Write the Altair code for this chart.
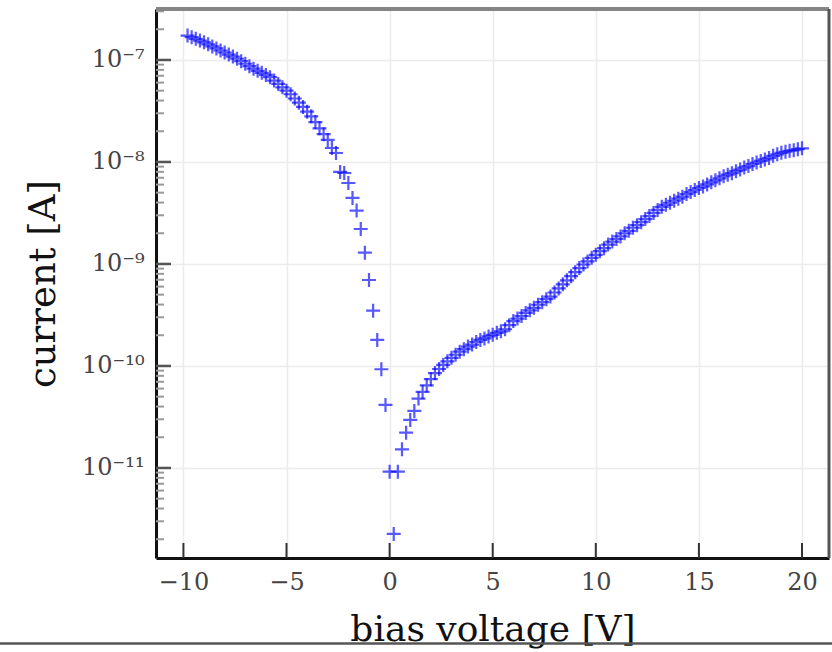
import altair as alt
import pandas as pd

# ---- data (bias voltage in V, log10 of current in A) ----
voltage = [
    -9.8, -9.6, -9.4, -9.2, -9.0, -8.8, -8.6, -8.4, -8.2, -8.0,
    -7.8, -7.6, -7.4, -7.2, -7.0, -6.8, -6.6, -6.4, -6.2, -6.0,
    -5.8, -5.6, -5.4, -5.2, -5.0, -4.8, -4.6, -4.4, -4.2, -4.0,
    -3.8, -3.6, -3.4, -3.2, -3.0, -2.8, -2.6, -2.4, -2.2, -2.0,
    -1.8, -1.6, -1.4, -1.2, -1.0, -0.8, -0.6, -0.4, -0.2, 0.0,
    0.2, 0.4, 0.6, 0.8, 1.0, 1.2, 1.4, 1.6, 1.8, 2.0,
    2.2, 2.4, 2.6, 2.8, 3.0, 3.2, 3.4, 3.6, 3.8, 4.0,
    4.2, 4.4, 4.6, 4.8, 5.0, 5.2, 5.4, 5.6, 5.8, 6.0,
    6.2, 6.4, 6.6, 6.8, 7.0, 7.2, 7.4, 7.6, 7.8, 8.0,
    8.2, 8.4, 8.6, 8.8, 9.0, 9.2, 9.4, 9.6, 9.8, 10.0,
    10.2, 10.4, 10.6, 10.8, 11.0, 11.2, 11.4, 11.6, 11.8, 12.0,
    12.2, 12.4, 12.6, 12.8, 13.0, 13.2, 13.4, 13.6, 13.8, 14.0,
    14.2, 14.4, 14.6, 14.8, 15.0, 15.2, 15.4, 15.6, 15.8, 16.0,
    16.2, 16.4, 16.6, 16.8, 17.0, 17.2, 17.4, 17.6, 17.8, 18.0,
    18.2, 18.4, 18.6, 18.8, 19.0, 19.2, 19.4, 19.6, 19.8, 20.0,
]

log10_current = [
    -6.761, -6.777, -6.793, -6.810, -6.827, -6.847, -6.867, -6.887, -6.907, -6.927,
    -6.947, -6.967, -6.988, -7.012, -7.037, -7.061, -7.085, -7.106, -7.126, -7.147,
    -7.169, -7.202, -7.235, -7.268, -7.301, -7.336, -7.378, -7.419, -7.460, -7.507,
    -7.553, -7.609, -7.670, -7.728, -7.784, -7.863, -7.912, -8.098, -8.108, -8.206,
    -8.353, -8.477, -8.657, -8.889, -9.157, -9.458, -9.745, -10.032, -10.382, -11.036,
    -11.647, -11.036, -10.817, -10.654, -10.529, -10.441, -10.320, -10.255, -10.190, -10.130,
    -10.070, -10.030, -9.990, -9.955, -9.920, -9.890, -9.860, -9.835, -9.810, -9.790,
    -9.765, -9.745, -9.730, -9.710, -9.695, -9.675, -9.660, -9.640, -9.600, -9.560,
    -9.535, -9.510, -9.480, -9.455, -9.430, -9.400, -9.375, -9.345, -9.320, -9.280,
    -9.240, -9.200, -9.160, -9.120, -9.080, -9.040, -9.005, -8.975, -8.940, -8.910,
    -8.875, -8.845, -8.810, -8.780, -8.755, -8.730, -8.700, -8.675, -8.645, -8.620,
    -8.590, -8.560, -8.530, -8.500, -8.470, -8.440, -8.420, -8.400, -8.380, -8.360,
    -8.340, -8.315, -8.295, -8.275, -8.255, -8.240, -8.220, -8.200, -8.180, -8.160,
    -8.140, -8.125, -8.110, -8.090, -8.075, -8.055, -8.040, -8.020, -8.005, -7.990,
    -7.975, -7.960, -7.940, -7.925, -7.910, -7.900, -7.890, -7.885, -7.875, -7.866,
]

x_ticks = [-10, -5, 0, 5, 10, 15, 20]
y_major = [1e-11, 1e-10, 1e-9, 1e-8, 1e-7]
y_labels = ["10⁻¹¹", "10⁻¹⁰", "10⁻⁹", "10⁻⁸", "10⁻⁷"]
minor_mult = [2, 3, 4, 5, 6, 7, 8, 9]
minor_decades = [-12, -11, -10, -9, -8, -7]

X_DOMAIN = [-11.33, 21.31]
Y_DOMAIN = [1.31e-12, 3.16e-7]

df = pd.DataFrame({"voltage": voltage, "current": [10.0 ** v for v in log10_current]})
y_minor = [m * 10.0 ** k for k in minor_decades for m in minor_mult
           if Y_DOMAIN[0] <= m * 10.0 ** k <= Y_DOMAIN[1]]

W, H = 673, 549
FONT = "DejaVu Serif"

x_scale = alt.Scale(domain=X_DOMAIN, nice=False, zero=False)
y_scale = alt.Scale(type="log", domain=Y_DOMAIN, nice=False)

label_map = "[" + ",".join("'%s'" % s for s in y_labels) + "]"

x_axis = alt.Axis(
    values=x_ticks,
    title="bias voltage [V]",
    grid=True,
    gridColor="#ececec",
    gridWidth=1.5,
    ticks=False,
    tickSize=0,
    domainColor="#111111",
    domainWidth=3,
    labelFont=FONT,
    labelFontSize=24,
    labelColor="#444444",
    labelPadding=12,
    labelFlush=False,
    labelOverlap=False,
    labelExpr="datum.value < 0 ? '\u2212' + abs(datum.value) : '' + datum.value",
    titleFont=FONT,
    titleFontSize=36,
    titleFontWeight="normal",
    titleColor="#111111",
    titleX=W / 2,
    titleY=82,
    titleBaseline="alphabetic",
    titleAlign="center",
)

y_axis = alt.Axis(
    values=y_major,
    title="current [A]",
    grid=True,
    gridColor="#ececec",
    gridWidth=1.5,
    ticks=False,
    tickSize=0,
    domainColor="#111111",
    domainWidth=3,
    labelFont=FONT,
    labelFontSize=24,
    labelColor="#444444",
    labelPadding=12,
    labelFlush=False,
    labelOverlap=False,
    labelExpr=label_map + "[round(log(datum.value)/LN10)+11]",
    titleFont=FONT,
    titleFontSize=37,
    titleFontWeight="normal",
    titleColor="#111111",
    titleAngle=270,
    titleX=-102,
    titleY=H / 2,
    titleBaseline="alphabetic",
    titleAlign="center",
)

points = alt.Chart(df).mark_point(
    shape="M-1,0L1,0M0,-1L0,1",
    size=196,
    filled=False,
    color="#0000ff",
    stroke="#0000ff",
    strokeWidth=2.2,
    opacity=0.65,
).encode(
    x=alt.X("voltage:Q", scale=x_scale, axis=x_axis),
    y=alt.Y("current:Q", scale=y_scale, axis=y_axis),
)

x_tick_layer = alt.Chart(pd.DataFrame({"voltage": x_ticks})).mark_rule(
    color="#333333", strokeWidth=2
).encode(
    x=alt.X("voltage:Q", scale=x_scale, axis=x_axis),
    y=alt.value(H - 15),
    y2=alt.value(H),
)

y_major_layer = alt.Chart(pd.DataFrame({"current": y_major})).mark_rule(
    color="#555555", strokeWidth=2.5
).encode(
    y=alt.Y("current:Q", scale=y_scale, axis=y_axis),
    x=alt.value(0),
    x2=alt.value(15),
)

y_minor_layer = alt.Chart(pd.DataFrame({"current": y_minor})).mark_rule(
    color="#999999", strokeWidth=2
).encode(
    y=alt.Y("current:Q", scale=y_scale, axis=y_axis),
    x=alt.value(0),
    x2=alt.value(8),
)

one = pd.DataFrame({"a": [0]})
top_border = alt.Chart(one).mark_rule(color="#858585", strokeWidth=4).encode(
    x=alt.value(0), x2=alt.value(W), y=alt.value(0)
)
right_border = alt.Chart(one).mark_rule(color="#555555", strokeWidth=3).encode(
    x=alt.value(W), y=alt.value(0), y2=alt.value(H)
)
bottom_line = alt.Chart(one).mark_rule(color="#555555", strokeWidth=2.5).encode(
    x=alt.value(-156), x2=alt.value(676), y=alt.value(634.5)
)

chart = alt.layer(
    points, x_tick_layer, y_major_layer, y_minor_layer,
    top_border, right_border, bottom_line,
).properties(
    width=W,
    height=H,
    autosize=alt.AutoSizeParams(type="none"),
    padding={"left": 156, "top": 9, "right": 3, "bottom": 94},
).configure_view(stroke=None)

chart.save("out.html", embed_options={"renderer": "svg", "actions": False})
